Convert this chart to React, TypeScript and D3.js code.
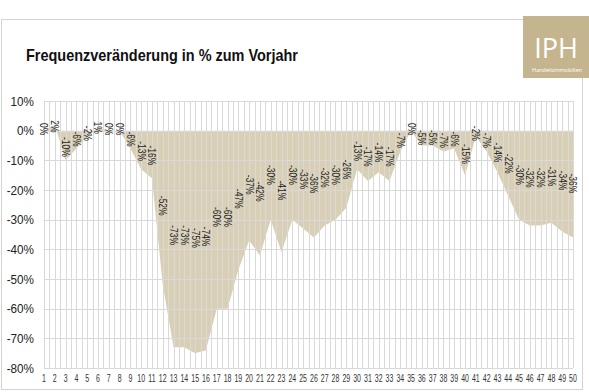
import React, { useRef, useEffect } from 'react';
import * as d3 from 'd3';

// Kalenderwochen 1..50
const weeks: number[] = d3.range(1, 51);
// Frequenzveränderung zum Vorjahr in %
const changes: number[] = [
  0, 2, -10, -6, -2, 1, 0, 0, -6, -13,
  -16, -52, -73, -73, -75, -74, -60, -60, -47, -37,
  -42, -30, -41, -30, -33, -36, -32, -30, -26, -13,
  -17, -14, -17, -7, 0, -5, -5, -7, -6, -15,
  -2, -7, -14, -22, -30, -32, -32, -31, -34, -36,
];
const yTicks: number[] = [10, 0, -10, -20, -30, -40, -50, -60, -70, -80];

const TITLE = 'Frequenzveränderung in % zum Vorjahr';
const FONT = '"Liberation Sans", Arial, sans-serif';

const App = () => {
  const ref = useRef<SVGSVGElement>(null);

  useEffect(() => {
    const svg = d3.select(ref.current);
    svg.selectAll('*').remove();

    const width = 589, height = 392;
    svg.attr('width', width).attr('height', height);

    const x = d3.scaleLinear().domain([1, 50]).range([44, 573]);
    const y = d3.scaleLinear().domain([10, -80]).range([101, 368]);
    // labels sit on a compressed secondary scale, like in the source chart
    const yLabel = d3.scaleLinear().domain([10, -80]).range([109, 235]);

    // frame
    svg.append('rect')
      .attr('x', 1.5).attr('y', 19.5)
      .attr('width', 581).attr('height', 370)
      .attr('fill', '#fff')
      .attr('stroke', '#d4d4d4');

    // title
    svg.append('text')
      .attr('x', 26).attr('y', 61)
      .attr('font-family', FONT)
      .attr('font-weight', 'bold')
      .attr('font-size', 17)
      .attr('textLength', 272)
      .attr('lengthAdjust', 'spacingAndGlyphs')
      .attr('fill', '#111')
      .text(TITLE);

    // logo
    svg.append('rect')
      .attr('x', 523).attr('y', 16)
      .attr('width', 66).attr('height', 62)
      .attr('fill', '#c5b58e');
    svg.append('text')
      .attr('x', 556).attr('y', 58)
      .attr('text-anchor', 'middle')
      .attr('font-family', '"Open Sans", sans-serif')
      .attr('font-size', 27)
      .attr('fill', '#fff')
      .text('IPH');
    svg.append('text')
      .attr('x', 557).attr('y', 72)
      .attr('text-anchor', 'middle')
      .attr('font-family', '"Open Sans", sans-serif')
      .attr('font-size', 5.5)
      .attr('fill', '#fff')
      .text('Handelsimmobilien');

    const data = weeks.map((w, i) => ({ w, v: changes[i] }));

    // area between 0 and the value
    const area = d3.area<{ w: number; v: number }>()
      .x((d) => x(d.w))
      .y0(y(0))
      .y1((d) => y(d.v));

    svg.append('path')
      .datum(data)
      .attr('d', area)
      .attr('fill', '#d8cfb4');

    // grid on top
    const grid = svg.append('g').attr('stroke', '#d9d9d9').attr('stroke-width', 1);
    d3.range(1, 50.01, 0.5).forEach((w) => {
      const px = Math.round(x(w)) + 0.5;
      grid.append('line')
        .attr('x1', px).attr('x2', px)
        .attr('y1', y(10)).attr('y2', y(-80));
    });
    yTicks.forEach((t) => {
      const py = Math.round(y(t)) + 0.5;
      grid.append('line')
        .attr('x1', x(1)).attr('x2', x(50))
        .attr('y1', py).attr('y2', py);
    });

    // y axis labels
    svg.append('g')
      .selectAll('text')
      .data(yTicks)
      .enter()
      .append('text')
      .attr('transform', (d) => `translate(34,${y(d)}) scale(0.9,1)`)
      .attr('dy', '0.35em')
      .attr('text-anchor', 'end')
      .attr('font-family', FONT)
      .attr('font-size', 13)
      .attr('fill', '#222')
      .text((d) => `${d}%`);

    // x axis labels (condensed)
    svg.append('g')
      .selectAll('text')
      .data(weeks)
      .enter()
      .append('text')
      .attr('transform', (d) => `translate(${x(d)},382) scale(0.7,1)`)
      .attr('text-anchor', 'middle')
      .attr('font-family', FONT)
      .attr('font-size', 10)
      .attr('fill', '#333')
      .text((d) => d);

    // rotated value labels
    svg.append('g')
      .selectAll('text')
      .data(data)
      .enter()
      .append('text')
      .attr('transform', (d) => `translate(${x(d.w)},${yLabel(d.v)}) rotate(90) scale(0.85,1)`)
      .attr('dy', '0.35em')
      .attr('font-family', FONT)
      .attr('font-size', 10)
      .attr('fill', '#222')
      .text((d) => `${d.v}%`);
  }, []);

  return <svg ref={ref} style={{ position: 'absolute', left: 0, top: 0 }}></svg>;
};

export default App;
